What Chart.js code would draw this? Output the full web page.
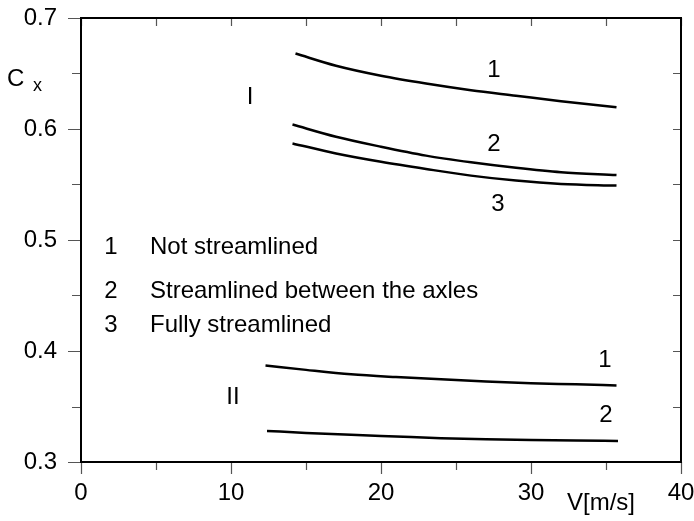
<!DOCTYPE html>
<html>
<head>
<meta charset="utf-8">
<script src="https://cdn.jsdelivr.net/npm/chart.js@4/dist/chart.umd.min.js"></script>
<style>
  html, body { margin: 0; padding: 0; background: #fff; }
  canvas { display: block; }
</style>
</head>
<body>
<canvas id="chart" width="694" height="521"></canvas>
<script>
// Drag coefficient Cx versus speed V, group I (three body variants) and group II
const speedI1 = [14.3, 17.0, 20.0, 23.0, 26.0, 29.0, 32.0, 35.7];
const cxI1    = [0.668, 0.657, 0.648, 0.641, 0.635, 0.630, 0.625, 0.6195];
const speedI2 = [14.1, 17.0, 20.0, 23.0, 26.0, 29.0, 32.0, 35.7];
const cxI2    = [0.604, 0.593, 0.584, 0.576, 0.570, 0.565, 0.561, 0.5585];
const speedI3 = [14.1, 17.0, 20.0, 23.0, 26.0, 29.0, 32.0, 35.7];
const cxI3    = [0.587, 0.578, 0.5705, 0.564, 0.558, 0.5535, 0.5505, 0.549];
const speedII1 = [12.3, 15.0, 18.0, 21.0, 24.0, 27.0, 30.0, 33.0, 35.7];
const cxII1    = [0.387, 0.383, 0.379, 0.3765, 0.3745, 0.3725, 0.371, 0.370, 0.369];
const speedII2 = [12.4, 15.0, 18.0, 21.0, 24.0, 27.0, 30.0, 33.0, 35.8];
const cxII2    = [0.328, 0.3262, 0.3245, 0.323, 0.3215, 0.3205, 0.3198, 0.3193, 0.319];

const xTickValues = [0, 10, 20, 30, 40];
const yTickValues = [0.3, 0.4, 0.5, 0.6, 0.7];
const legendItems = ['Not streamlined', 'Streamlined between the axles', 'Fully streamlined'];

const FONT = '"Liberation Sans", Arial, Helvetica, sans-serif';

function toPoints(xs, ys) {
  return xs.map((v, i) => ({ x: v, y: ys[i] }));
}

function curve(xs, ys) {
  return {
    data: toPoints(xs, ys),
    showLine: true,
    borderColor: '#000',
    borderWidth: 2.5,
    pointRadius: 0,
    cubicInterpolationMode: 'monotone',
    fill: false
  };
}

// axis sizes are fixed; label overhang is absorbed by the layout padding
function fixedSize(prop, size) {
  return scale => {
    scale[prop] = size;
    scale.paddingTop = 0;
    scale.paddingBottom = 0;
    scale.paddingLeft = 0;
    scale.paddingRight = 0;
  };
}

// Frame, tick marks on all four sides, and text annotations
const decorations = {
  id: 'decorations',
  afterDraw(chart) {
    const { ctx, chartArea: a, scales: { x, y } } = chart;
    ctx.save();

    // tick marks: outward on bottom/left, inward on top/right
    ctx.strokeStyle = '#555';
    ctx.lineWidth = 1.2;
    ctx.beginPath();
    for (let i = 0; i <= 8; i++) {
      const v = i * 5;
      const px = Math.round(x.getPixelForValue(v)) + 0.5;
      const major = i % 2 === 0;
      ctx.moveTo(px, a.bottom);
      ctx.lineTo(px, a.bottom + (major ? 12 : 8));
      ctx.moveTo(px, a.top);
      ctx.lineTo(px, a.top + 8);
    }
    for (let i = 0; i <= 8; i++) {
      const v = 0.3 + i * 0.05;
      const py = Math.round(y.getPixelForValue(v)) + 0.5;
      const major = i % 2 === 0;
      ctx.moveTo(a.left, py);
      ctx.lineTo(a.left - (major ? 13 : 9), py);
      ctx.moveTo(a.right, py);
      ctx.lineTo(a.right - 8, py);
    }
    ctx.stroke();

    // frame
    ctx.strokeStyle = '#000';
    ctx.lineWidth = 2;
    ctx.strokeRect(a.left, a.top, a.right - a.left, a.bottom - a.top);

    ctx.fillStyle = '#000';
    ctx.textBaseline = 'middle';

    // axis titles
    ctx.font = '24px ' + FONT;
    ctx.textAlign = 'left';
    ctx.fillText('C', 7, 79);
    ctx.font = '18px ' + FONT;
    ctx.fillText('x', 33, 86);
    ctx.font = '24px ' + FONT;
    ctx.textAlign = 'center';
    ctx.fillText('V[m/s]', 601, 503);

    // group and curve numbers
    ctx.font = '24px ' + FONT;
    ctx.fillText('I', 250, 97);
    ctx.fillText('II', 233, 397);
    ctx.fillText('1', 494, 70);
    ctx.fillText('2', 494, 144);
    ctx.fillText('3', 498, 204);
    ctx.fillText('1', 605, 360);
    ctx.fillText('2', 606, 415);

    // key of curve numbers
    const rows = [247, 291, 325];
    legendItems.forEach((label, i) => {
      ctx.textAlign = 'center';
      ctx.fillText(String(i + 1), 111, rows[i]);
      ctx.textAlign = 'left';
      ctx.fillText(label, 150, rows[i]);
    });

    ctx.restore();
  }
};

new Chart(document.getElementById('chart'), {
  type: 'scatter',
  data: {
    datasets: [
      curve(speedI1, cxI1),
      curve(speedI2, cxI2),
      curve(speedI3, cxI3),
      curve(speedII1, cxII1),
      curve(speedII2, cxII2)
    ]
  },
  options: {
    responsive: false,
    animation: false,
    layout: { padding: { top: 18, right: 13, left: 0, bottom: 0 } },
    plugins: {
      legend: { display: false },
      tooltip: { enabled: false }
    },
    scales: {
      x: {
        type: 'linear',
        min: 0,
        max: 40,
        afterBuildTicks(scale) { scale.ticks = xTickValues.map(v => ({ value: v })); },
        afterFit: fixedSize('height', 59),
        grid: { display: false, drawTicks: false },
        border: { display: false },
        ticks: {
          color: '#000',
          font: { family: FONT, size: 24 },
          padding: 17,
          maxRotation: 0,
          callback: v => String(v)
        }
      },
      y: {
        type: 'linear',
        min: 0.3,
        max: 0.7,
        afterBuildTicks(scale) { scale.ticks = yTickValues.map(v => ({ value: v })); },
        afterFit: fixedSize('width', 81),
        grid: { display: false, drawTicks: false },
        border: { display: false },
        ticks: {
          color: '#000',
          font: { family: FONT, size: 24 },
          padding: 24,
          callback: v => Number(v).toFixed(1)
        }
      }
    }
  },
  plugins: [decorations]
});
</script>
</body>
</html>
